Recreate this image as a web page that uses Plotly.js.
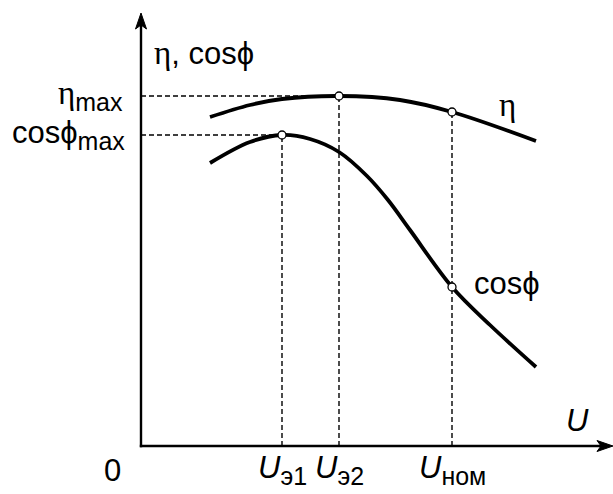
<!DOCTYPE html>
<html><head><meta charset="utf-8">
<script src="https://cdn.plot.ly/plotly-3.0.1.min.js"></script>
<style>body{margin:0;background:#fff}#c{width:613px;height:494px}</style>
</head><body><div id="c"></div>
<script>
// curve samples (U in px-like units from origin, values likewise)
const etaU = [69,109,141,198,259,311,395];
const etaV = [329,341,347,350,346,334,305];
const cosU = [69,109,141,169,198,226,247,269,311,349,395];
const cosV = [283,304,311,307,294,270,246,216,159,121,79];
// special points
const ptLabels = ['э1','э2','ном'];
const ptU = [141,198,311];
const ptTop = [311,350,334];      // top of each vertical dashed line
const hLevels = [350,311];        // eta_max, cos_max
const hEnds = [198,141];
const markU = [141,198,311,311];
const markV = [311,350,334,159];

const X0 = -6, XR = 472, Y0 = -6, YT = 436, YR = 433;
const px = v => (v - X0) / (XR - X0), py = v => (v - Y0) / (YT - Y0);
const FS = 31;
const font = {family:'Liberation Sans, Arial, sans-serif', size:FS, color:'#000'};
const traces = [];
for (let i=0;i<ptU.length;i++){
  traces.push({x:[ptU[i],ptU[i]], y:[0,ptTop[i]], mode:'lines', line:{color:'#000',width:1.4,dash:'5px,3px'}, hoverinfo:'skip'});
}
for (let i=0;i<hLevels.length;i++){
  traces.push({x:[0,hEnds[i]], y:[hLevels[i],hLevels[i]], mode:'lines', line:{color:'#000',width:1.4,dash:'5px,3px'}, hoverinfo:'skip'});
}
traces.push({x:etaU, y:etaV, mode:'lines', line:{color:'#000',width:3.8,shape:'spline',smoothing:1}});
traces.push({x:cosU, y:cosV, mode:'lines', line:{color:'#000',width:3.8,shape:'spline',smoothing:1}});
traces.push({x:markU, y:markV, mode:'markers', marker:{size:8,color:'#fff',line:{color:'#000',width:1.3}}, cliponaxis:false});

const eta = '<span style="font-family:Liberation Serif;font-size:33px">η</span>';
const phi = 'ϕ';
const sub = s => '<sub><span style="font-size:25px">'+s+'</span></sub>';
function lab(x,y,text,xa,ya,extra){
  return Object.assign({xref:'paper',yref:'paper',x:px(x),y:py(y),text,xanchor:xa||'center',yanchor:ya||'middle',showarrow:false,font},extra||{});
}
const ann = [
  lab(11,393,eta+', cos'+phi,'left'),
  lab(-16,hLevels[0],eta+sub('max'),'right'),
  lab(-14,hLevels[1],'cos'+phi+sub('max'),'right'),
  lab(366,341,eta),
  lab(366,163,'cos'+phi),
  lab(436,26,'<i>U</i>'),
  lab(-29,-24,'0')
];
for (let i=0;i<ptU.length;i++){
  ann.push(lab(ptU[i],-24,'<i>U</i>'+sub(ptLabels[i])));
}
const shapes = [
  {type:'line',xref:'x',yref:'y',x0:0,y0:-1.2,x1:0,y1:YR-8,line:{color:'#000',width:2.4},layer:'above'},
  {type:'line',xref:'x',yref:'y',x0:-1.2,y0:0,x1:XR-8,y1:0,line:{color:'#000',width:2.4},layer:'above'},
  {type:'path',xref:'x',yref:'y',path:`M 0 ${YR} L -5.5 ${YR-16} L 0 ${YR-12} L 5.5 ${YR-16} Z`,fillcolor:'#000',line:{color:'#000',width:1},layer:'above'},
  {type:'path',xref:'x',yref:'y',path:`M ${XR} 0 L ${XR-16} 5.5 L ${XR-12} 0 L ${XR-16} -5.5 Z`,fillcolor:'#000',line:{color:'#000',width:1},layer:'above'}
];
const layout = {
  width:613,height:494,margin:{l:135,r:0,t:10,b:42},
  paper_bgcolor:'#fff',plot_bgcolor:'#fff',showlegend:false,
  xaxis:{range:[X0,XR],visible:false,fixedrange:true},
  yaxis:{range:[Y0,YT],visible:false,fixedrange:true},
  annotations:ann, shapes
};
Plotly.newPlot('c',traces,layout,{staticPlot:true});
</script></body></html>
